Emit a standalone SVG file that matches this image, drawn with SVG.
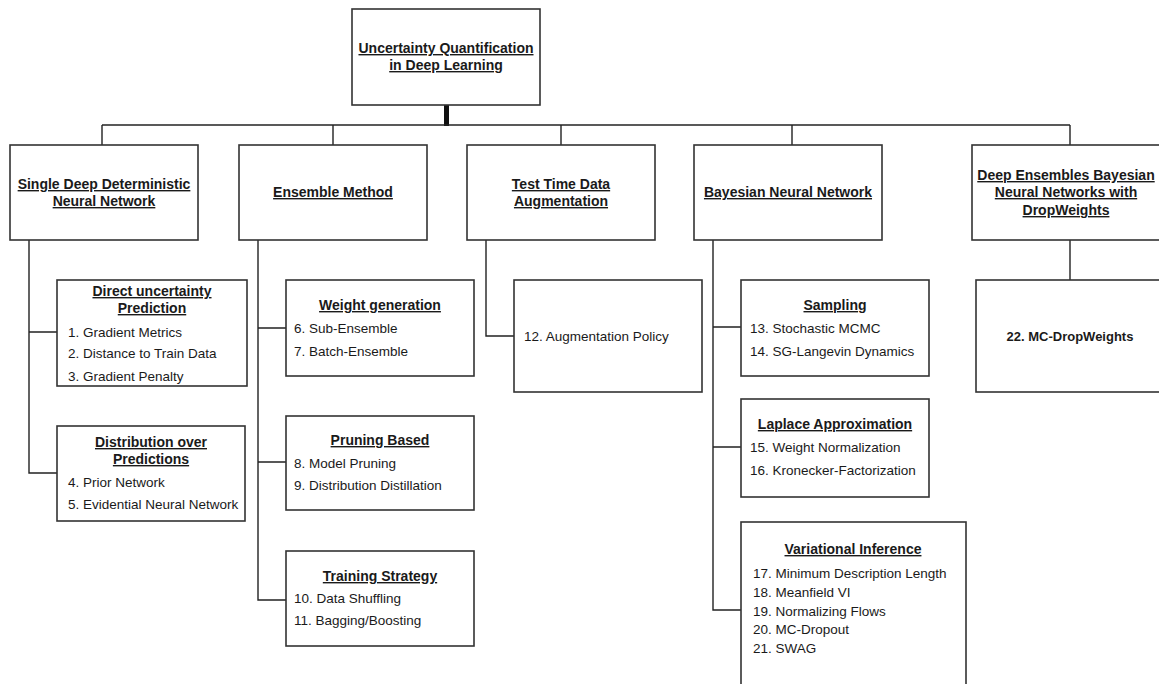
<svg xmlns="http://www.w3.org/2000/svg" width="1159" height="684" viewBox="0 0 1159 684">
  <style>
    .box { fill: #fff; stroke: #333; stroke-width: 1.6; }
    .wire { fill: none; stroke: #222; stroke-width: 1.4; }
    .hd { font-family: "Liberation Sans", Arial, sans-serif; font-size: 14px; font-weight: bold; text-decoration: underline; text-anchor: middle; fill: #1a1a1a; }
    .it { font-family: "Liberation Sans", Arial, sans-serif; font-size: 13.5px; fill: #1a1a1a; }
    .bd { font-family: "Liberation Sans", Arial, sans-serif; font-size: 13px; font-weight: bold; text-anchor: middle; fill: #1a1a1a; }
  </style>
  <rect width="1159" height="684" fill="#fff"/>

  <!-- tree connectors -->
  <g id="connectors">
    <rect x="444" y="105" width="5" height="21" fill="#111"/>
    <path class="wire" d="M102 125 H1070"/>
    <path class="wire" d="M102 125 V145 M333 125 V145 M561 125 V145 M792 125 V145 M1070 125 V145"/>
    <path class="wire" d="M29 240 V473 H57 M29 332 H57"/>
    <path class="wire" d="M258 240 V600 H286 M258 328 H286 M258 462 H286"/>
    <path class="wire" d="M486 240 V336 H514"/>
    <path class="wire" d="M713 240 V610 H741 M713 327 H741 M713 447 H741"/>
    <path class="wire" d="M1070 240 V280"/>
  </g>

  <g id="root">
    <rect class="box" x="352" y="9" width="188" height="96"/>
    <text class="hd" x="446" y="53">Uncertainty Quantification</text>
    <text class="hd" x="446" y="70">in Deep Learning</text>
  </g>

  <g id="single-deterministic">
    <rect class="box" x="10" y="145" width="188" height="95"/>
    <text class="hd" x="104" y="189">Single Deep Deterministic</text>
    <text class="hd" x="104" y="206">Neural Network</text>
  </g>

  <g id="ensemble">
    <rect class="box" x="239" y="145" width="188" height="95"/>
    <text class="hd" x="333" y="197">Ensemble Method</text>
  </g>

  <g id="test-time-augmentation">
    <rect class="box" x="467" y="145" width="188" height="95"/>
    <text class="hd" x="561" y="189">Test Time Data</text>
    <text class="hd" x="561" y="206">Augmentation</text>
  </g>

  <g id="bayesian">
    <rect class="box" x="694" y="145" width="188" height="95"/>
    <text class="hd" x="788" y="197">Bayesian Neural Network</text>
  </g>

  <g id="deep-ensembles-dropweights">
    <rect class="box" x="972" y="145" width="192" height="95"/>
    <text class="hd" x="1066" y="180">Deep Ensembles Bayesian</text>
    <text class="hd" x="1066" y="197">Neural Networks with</text>
    <text class="hd" x="1066" y="215">DropWeights</text>
  </g>

  <g id="direct-uncertainty">
    <rect class="box" x="57" y="280" width="190" height="106"/>
    <text class="hd" x="152" y="296">Direct uncertainty</text>
    <text class="hd" x="152" y="313">Prediction</text>
    <text class="it" x="68" y="337">1. Gradient Metrics</text>
    <text class="it" x="68" y="358">2. Distance to Train Data</text>
    <text class="it" x="68" y="381">3. Gradient Penalty</text>
  </g>

  <g id="distribution-predictions">
    <rect class="box" x="57" y="426" width="188" height="95"/>
    <text class="hd" x="151" y="447">Distribution over</text>
    <text class="hd" x="151" y="464">Predictions</text>
    <text class="it" x="68" y="487">4. Prior Network</text>
    <text class="it" x="68" y="509">5. Evidential Neural Network</text>
  </g>

  <g id="weight-generation">
    <rect class="box" x="286" y="280" width="188" height="96"/>
    <text class="hd" x="380" y="310">Weight generation</text>
    <text class="it" x="294" y="333">6. Sub-Ensemble</text>
    <text class="it" x="294" y="356">7. Batch-Ensemble</text>
  </g>

  <g id="pruning-based">
    <rect class="box" x="286" y="416" width="188" height="94"/>
    <text class="hd" x="380" y="445">Pruning  Based</text>
    <text class="it" x="294" y="468">8. Model Pruning</text>
    <text class="it" x="294" y="490">9. Distribution Distillation</text>
  </g>

  <g id="training-strategy">
    <rect class="box" x="286" y="551" width="188" height="95"/>
    <text class="hd" x="380" y="581">Training  Strategy</text>
    <text class="it" x="294" y="603">10. Data Shuffling</text>
    <text class="it" x="294" y="625">11. Bagging/Boosting</text>
  </g>

  <g id="augmentation-policy">
    <rect class="box" x="514" y="280" width="188" height="112"/>
    <text class="it" x="524" y="341">12. Augmentation Policy</text>
  </g>

  <g id="sampling">
    <rect class="box" x="741" y="280" width="188" height="96"/>
    <text class="hd" x="835" y="310">Sampling</text>
    <text class="it" x="750" y="333">13. Stochastic MCMC</text>
    <text class="it" x="750" y="356">14. SG-Langevin Dynamics</text>
  </g>

  <g id="laplace">
    <rect class="box" x="741" y="399" width="188" height="98"/>
    <text class="hd" x="835" y="429">Laplace Approximation</text>
    <text class="it" x="750" y="452">15. Weight Normalization</text>
    <text class="it" x="750" y="475">16. Kronecker-Factorization</text>
  </g>

  <g id="variational-inference">
    <rect class="box" x="741" y="522" width="225" height="170"/>
    <text class="hd" x="853" y="554">Variational  Inference</text>
    <text class="it" x="753" y="578">17. Minimum Description Length</text>
    <text class="it" x="753" y="597">18. Meanfield VI</text>
    <text class="it" x="753" y="616">19. Normalizing Flows</text>
    <text class="it" x="753" y="634">20. MC-Dropout</text>
    <text class="it" x="753" y="653">21. SWAG</text>
  </g>

  <g id="mc-dropweights">
    <rect class="box" x="976" y="280" width="188" height="112"/>
    <text class="bd" x="1070" y="341">22. MC-DropWeights</text>
  </g>
</svg>
